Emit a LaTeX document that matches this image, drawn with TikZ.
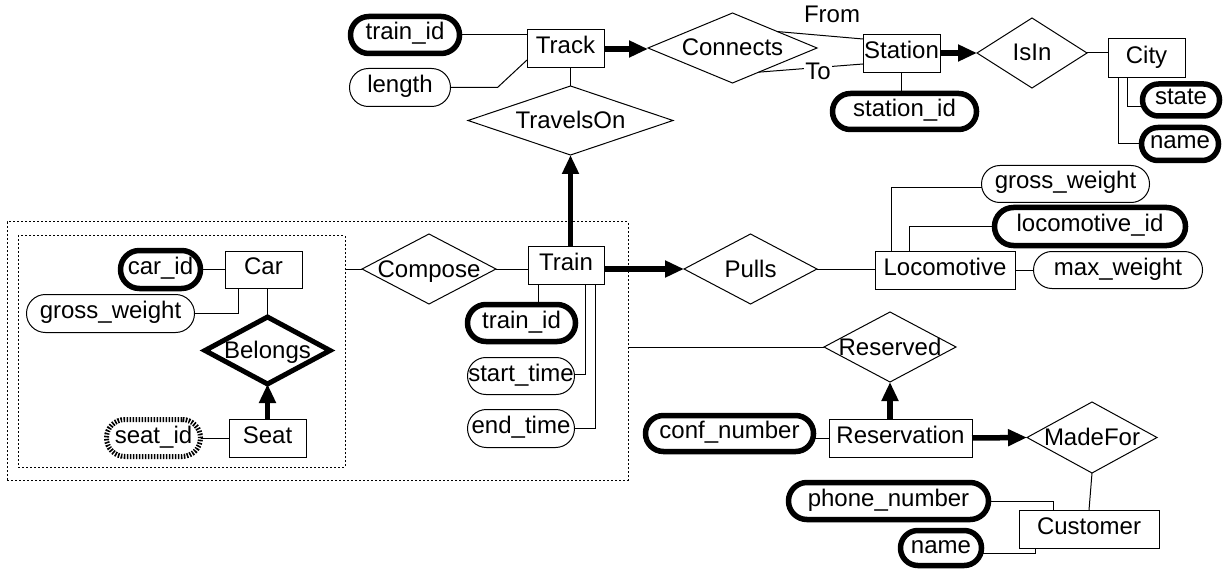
\documentclass[tikz,border=0pt]{standalone}
\usepackage{fontspec}
\setmainfont{Liberation Sans}
\usetikzlibrary{shapes.geometric,arrows.meta,calc}
\newcommand\erfnt{\fontsize{24pt}{28pt}\selectfont}
\begin{document}
\begin{tikzpicture}[x=1pt,y=-1pt,
  every node/.style={font=\erfnt, inner sep=0pt, outer sep=0pt},
  ent/.style={draw, line width=1pt, rectangle, minimum height=38pt, text height=16pt, text depth=6pt},
  rel/.style={draw, line width=1pt, diamond, text height=19pt, text depth=3pt},
  att/.style={draw, line width=1pt, rectangle, minimum height=37pt, rounded corners=18.4pt, text height=16pt, text depth=6pt},
  key/.style={att, line width=5.5pt},
  seatdash/.style={line width=5pt, dash pattern=on 1.6pt off 1.4pt},
  lbl/.style={text height=16pt, text depth=6pt},
  link/.style={line width=1pt},
  card/.style={line width=5.5pt, -{Triangle[length=19pt,width=16pt]}},
  grp/.style={draw, line width=1pt, dash pattern=on 2pt off 2pt, rectangle},
]
\useasboundingbox (0,0) rectangle (1230,569);

% groups
\node[grp, minimum width=621pt, minimum height=258pt] (trainbox) at (317.5,351) {};
\node[grp, minimum width=327pt, minimum height=231pt] (carbox) at (181.5,351.5) {};

% entities
\node[ent, minimum width=77pt] (track) at (565.5,49) {Track};
\node[ent, minimum width=77pt] (station) at (901.5,54) {Station};
\node[ent, minimum width=77pt, minimum height=39pt] (city) at (1146.5,58.5) {City};
\node[ent, minimum width=77pt, minimum height=37pt] (car) at (263.5,269.5) {Car};
\node[ent, minimum width=77pt] (seat) at (267.5,438) {Seat};
\node[ent, minimum width=76pt] (train) at (566,265) {Train};
\node[ent, minimum width=140pt] (loco) at (945,270) {Locomotive};
\node[ent, minimum width=143pt] (reservation) at (900.5,438) {Reservation};
\node[ent, minimum width=140pt] (customer) at (1089,529) {Customer};

% relationships
\node[rel, minimum width=169pt, minimum height=70pt] (connects) at (732.5,48) {\makebox[0pt]{Connects}};
\node[rel, minimum width=205pt, minimum height=69pt] (travelson) at (570.5,120.5) {\makebox[0pt]{TravelsOn}};
\node[rel, minimum width=110pt, minimum height=70pt] (isin) at (1032,53) {\makebox[0pt]{IsIn}};
\node[rel, minimum width=134pt, minimum height=70pt] (compose) at (429,269) {\makebox[0pt]{Compose}};
\node[rel, minimum width=133pt, minimum height=70pt] (pulls) at (750.5,269) {\makebox[0pt]{Pulls}};
\node[rel, minimum width=132pt, minimum height=70pt] (reserved) at (890,347) {\makebox[0pt]{Reserved}};
\node[rel, minimum width=130pt, minimum height=71pt] (madefor) at (1092,437.5) {\makebox[0pt]{MadeFor}};
\node[rel, line width=5pt, minimum width=125pt, minimum height=67pt] (belongs) at (267.5,350.5) {\makebox[0pt]{Belongs}};

% attributes
\node[key, minimum width=109pt, minimum height=37pt, rounded corners=18.4pt] (trkid) at (405,35) {train\_id};
\node[att, minimum width=101pt, minimum height=38pt, rounded corners=18.9pt] (length) at (400,87.5) {length};
\node[key, minimum width=144pt, minimum height=36pt, rounded corners=17.9pt] (stationid) at (904.5,111.5) {station\_id};
\node[key, minimum width=77pt, minimum height=32pt, rounded corners=15.9pt] (state) at (1181,100) {state};
\node[key, minimum width=77pt, minimum height=33pt, rounded corners=16.4pt] (cityname) at (1180,144) {name};
\node[key, minimum width=80pt, minimum height=38pt, rounded corners=18.9pt] (carid) at (160.5,269.5) {car\_id};
\node[att, minimum width=168pt, minimum height=38pt, rounded corners=18.9pt] (cargw) at (110.5,313.5) {gross\_weight};
\node[key, seatdash, minimum width=94pt, minimum height=37pt, rounded corners=18.4pt] (seatid) at (153.5,438) {seat\_id};
\node[key, minimum width=108pt, minimum height=37pt, rounded corners=18.4pt] (trainid) at (521.5,323) {train\_id};
\node[att, minimum width=107pt, minimum height=37pt, rounded corners=18.4pt] (startt) at (521,376) {start\_time};
\node[att, minimum width=107pt, minimum height=38pt, rounded corners=18.9pt] (endt) at (521,428.5) {end\_time};
\node[att, minimum width=168pt, minimum height=37pt, rounded corners=18.4pt] (locogw) at (1065.5,184) {gross\_weight};
\node[key, minimum width=191pt, minimum height=38pt, rounded corners=18.9pt] (locoid) at (1090,226.5) {locomotive\_id};
\node[att, minimum width=169pt, minimum height=37pt, rounded corners=18.4pt] (maxw) at (1118,270) {max\_weight};
\node[key, minimum width=168pt, minimum height=36pt, rounded corners=17.9pt] (conf) at (729.5,433.5) {conf\_number};
\node[key, minimum width=200pt, minimum height=37pt, rounded corners=18.4pt] (phone) at (888.5,501) {phone\_number};
\node[key, minimum width=81pt, minimum height=35pt, rounded corners=17.4pt] (custname) at (941,548) {name};

% connectors
\draw[link] (trkid.east) -- (trkid.east -| track.west);
\draw[link] (length.east) -- ++(47,0) -- ([yshift=-11pt]track.west);
\draw[link] (travelson.north) -- (travelson.north |- track.south);
\draw[card] (travelson.south |- train.north) -- (travelson.south);
\draw[card] (track.east) -- (track.east -| connects.west);
\draw[link] ($(connects.east)!0.47!(connects.north)$) -- ([yshift=15pt]station.west);
\draw[link] ($(connects.east)!0.69!(connects.south)$) -- ([yshift=-10pt]station.west);
\node[lbl] (from) at (832,18) {From};
\node[lbl, fill=white, inner xsep=1pt] (to) at (818,75) {To};
\draw[link] (station.south) -- (station.south |- stationid.north);
\draw[card] (isin.west -| station.east) -- (isin.west);
\draw[link] (isin.east) -- (isin.east -| city.west);
\draw[link] ([xshift=-19.5pt]city.south) |- ([yshift=-7pt]state.west);
\draw[link] ([xshift=-28.5pt]city.south) |- (cityname.west);

\draw[link] (carid.east) -- (car.west);
\draw[link] (cargw.east) -| ([xshift=-25.5pt]car.south);
\draw[link] (belongs.north |- car.south) -- (belongs.north);
\draw[card] (seat.north) -- (belongs.south);
\draw[link] (seatid.east) -- (seat.west);
\draw[link] (carbox.east |- compose.west) -- (compose.west);
\draw[link] (compose.east) -- (compose.east -| train.west);
\draw[card] (train.east |- pulls.west) -- (pulls.west);
\draw[link] ([xshift=-28pt]train.south) -- ([xshift=-28pt]train.south |- trainid.north);
\draw[link] ([xshift=19pt]train.south) |- ([yshift=2pt]startt.east);
\draw[link] ([xshift=29pt]train.south) |- (endt.east);

\draw[link] (pulls.east) -- (pulls.east -| loco.west);
\draw[link] ([xshift=-54pt]loco.north) |- ([yshift=-4pt]locogw.west);
\draw[link] ([xshift=-36pt]loco.north) |- (locoid.west);
\draw[link] (loco.east) -- (maxw.west);

\draw[link] (trainbox.east |- reserved.west) -- (reserved.west);
\draw[card] (reserved.south |- reservation.north) -- (reserved.south);
\draw[link] (conf.east |- reservation.west) -- (reservation.west);
\draw[card] (reservation.east) -- (madefor.west);
\draw[link] (madefor.south) -- (customer.north);
\draw[link] (phone.east) -| ([xshift=-36pt]customer.north);
\draw[link] ([yshift=-5pt]custname.east) -| ([xshift=-54pt]customer.south);
\end{tikzpicture}
\end{document}
